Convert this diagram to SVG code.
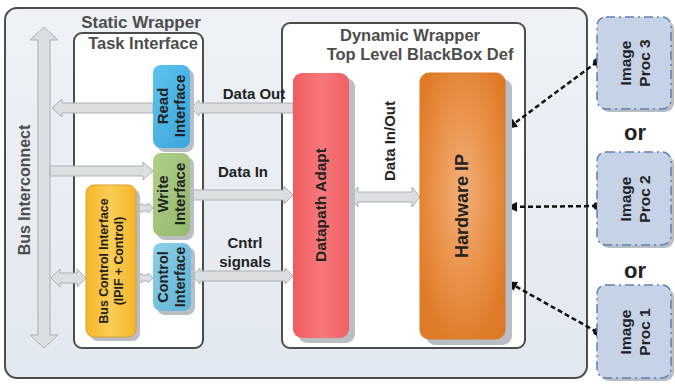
<svg xmlns="http://www.w3.org/2000/svg" width="675" height="384" viewBox="0 0 675 384">
<style>
.t{font-family:"Liberation Sans",Arial,sans-serif;font-weight:bold;fill:#222}
.tg{font-family:"Liberation Sans",Arial,sans-serif;font-weight:bold;fill:#4d4d4d}
.frame{fill:#fff;stroke:#4d4d4d;stroke-width:2}
.sh{fill:#b9bec4}
.arr{fill:#dcdfe2;stroke:#aab0b5;stroke-width:1}
.dash{fill:none;stroke:#111;stroke-width:2.5;stroke-dasharray:5 3}
.img{fill:#c6d3e6;stroke:#5d80b5;stroke-width:1.5;stroke-dasharray:9 4 2 4}
</style>
<defs>
<linearGradient id="gOuter" x1="0" y1="0" x2="0" y2="1"><stop offset="0" stop-color="#eef2f7"/><stop offset="1" stop-color="#e2e8ef"/></linearGradient>
<linearGradient id="gRead" x1="0" y1="0" x2="1" y2="1"><stop offset="0" stop-color="#5ec3ee"/><stop offset="1" stop-color="#3aa6dc"/></linearGradient>
<linearGradient id="gWrite" x1="0" y1="0" x2="1" y2="1"><stop offset="0" stop-color="#b0cf8c"/><stop offset="1" stop-color="#93b86b"/></linearGradient>
<linearGradient id="gCtrl" x1="0" y1="0" x2="1" y2="1"><stop offset="0" stop-color="#8fd0e8"/><stop offset="1" stop-color="#5eb2d4"/></linearGradient>
<linearGradient id="gBus" x1="0" y1="0" x2="1" y2="0"><stop offset="0" stop-color="#f5b82c"/><stop offset="0.5" stop-color="#fbcd55"/><stop offset="1" stop-color="#f3b52a"/></linearGradient>
<linearGradient id="gDp" x1="0" y1="0" x2="1" y2="0"><stop offset="0" stop-color="#f05b5f"/><stop offset="0.5" stop-color="#f7787a"/><stop offset="1" stop-color="#f06064"/></linearGradient>
<radialGradient id="gHw" cx="0.5" cy="0.45" r="0.6"><stop offset="0" stop-color="#f2b07a"/><stop offset="0.6" stop-color="#e98f45"/><stop offset="1" stop-color="#df7a26"/></radialGradient>
<marker id="ah" viewBox="0 0 10 10" refX="9" refY="5" markerWidth="4" markerHeight="4" orient="auto"><path d="M0,0 L10,5 L0,10 z" fill="#111"/></marker>
<marker id="dot" viewBox="0 0 10 10" refX="5" refY="5" markerWidth="3" markerHeight="3" orient="auto"><circle cx="5" cy="5" r="5" fill="#111"/></marker>
</defs>

<g id="static-wrapper">
<rect x="5" y="8" width="582" height="370" rx="12" fill="url(#gOuter)" stroke="#4d4d4d" stroke-width="2"/>
<text class="tg" x="141" y="28" font-size="17" text-anchor="middle">Static Wrapper</text>
</g>

<g id="task-interface">
<rect x="74" y="33" width="129" height="315" rx="8" class="frame"/>
<text class="tg" x="143" y="49" font-size="16.5" text-anchor="middle">Task Interface</text>
</g>

<g id="dynamic-wrapper">
<rect x="282" y="23" width="243" height="325" rx="8" class="frame"/>
<text class="tg" x="410" y="41" font-size="16.5" text-anchor="middle">Dynamic Wrapper</text>
<text class="tg" x="420" y="60" font-size="16.5" text-anchor="middle">Top Level BlackBox Def</text>
</g>

<g id="connectors">
<path class="arr" d="M44,27 L58,40 L50,40 L50,335 L58,335 L44,348 L30,335 L38,335 L38,40 L30,40 Z"/>
<path class="arr" d="M52,108 L62,99 L62,103 L153,103 L153,113 L62,113 L62,117 Z"/>
<path class="arr" d="M191,108 L199,100 L199,103 L293,103 L293,113 L199,113 L199,116 Z"/>
<path class="arr" d="M50,166 L143,166 L143,162 L153,171 L143,180 L143,176 L50,176 Z"/>
<path class="arr" d="M190,190 L284,190 L284,186 L293,195 L284,204 L284,200 L190,200 Z"/>
<path class="arr" d="M51,278 L60,269 L60,273 L77,273 L77,269 L86,278 L77,287 L77,283 L60,283 L60,287 Z"/>
<path class="arr" d="M137,208 L142,203 L142,205 L148,205 L148,203 L153,208 L148,213 L148,211 L142,211 L142,213 Z"/>
<path class="arr" d="M137,278 L142,273 L142,275 L148,275 L148,273 L153,278 L148,283 L148,281 L142,281 L142,283 Z"/>
<path class="arr" d="M192,276 L200,268 L200,271 L285,271 L285,268 L293,276 L285,284 L285,281 L200,281 L200,284 Z"/>
<path class="arr" d="M350,197 L358,187 L358,192 L412,192 L412,187 L420,197 L412,207 L412,202 L358,202 L358,207 Z"/>
<line class="dash" x1="597" y1="62" x2="508" y2="128" marker-start="url(#dot)" marker-end="url(#ah)"/>
<line class="dash" x1="597" y1="206" x2="508" y2="207" marker-start="url(#dot)" marker-end="url(#ah)"/>
<line class="dash" x1="597" y1="332" x2="508" y2="282" marker-start="url(#dot)" marker-end="url(#ah)"/>
</g>

<g id="bus-interconnect-label">
<text class="tg" font-size="16" text-anchor="middle" transform="translate(30,190) rotate(-90)">Bus Interconnect</text>
</g>

<g id="read-interface">
<rect x="157" y="69" width="37" height="83" rx="8" class="sh"/>
<rect x="153" y="65" width="37" height="83" rx="8" fill="url(#gRead)"/>
<text class="t" font-size="15" text-anchor="middle" transform="translate(168,106) rotate(-90)">Read</text>
<text class="t" font-size="15" text-anchor="middle" transform="translate(185,106) rotate(-90)">Interface</text>
</g>

<g id="write-interface">
<rect x="157" y="157" width="37" height="83" rx="8" class="sh"/>
<rect x="153" y="153" width="37" height="83" rx="8" fill="url(#gWrite)"/>
<text class="t" font-size="15" text-anchor="middle" transform="translate(168,194) rotate(-90)">Write</text>
<text class="t" font-size="15" text-anchor="middle" transform="translate(185,194) rotate(-90)">Interface</text>
</g>

<g id="control-interface">
<rect x="157" y="247" width="38" height="68" rx="8" class="sh"/>
<rect x="153" y="243" width="38" height="68" rx="8" fill="url(#gCtrl)"/>
<text class="t" font-size="14.5" text-anchor="middle" transform="translate(168,277) rotate(-90)">Control</text>
<text class="t" font-size="14.5" text-anchor="middle" transform="translate(185,277) rotate(-90)">Interface</text>
</g>

<g id="bus-control-interface">
<rect x="90" y="189" width="50" height="152" rx="8" class="sh"/>
<rect x="86" y="185" width="50" height="152" rx="8" fill="url(#gBus)" stroke="#d9a02a" stroke-width="1"/>
<text class="t" font-size="12.3" text-anchor="middle" transform="translate(108,261) rotate(-90)">Bus Control Interface</text>
<text class="t" font-size="12.3" text-anchor="middle" transform="translate(123,261) rotate(-90)">(IPIF + Control)</text>
</g>

<g id="datapath-adapt">
<rect x="298" y="78" width="57" height="265" rx="9" class="sh"/>
<rect x="293" y="73" width="56" height="265" rx="9" fill="url(#gDp)"/>
<text class="t" font-size="15.5" text-anchor="middle" transform="translate(326,205) rotate(-90)">Datapath Adapt</text>
</g>

<g id="hardware-ip">
<rect x="426" y="79" width="86" height="266" rx="9" class="sh"/>
<rect x="420" y="73" width="85" height="266" rx="9" fill="url(#gHw)" stroke="#d8792a" stroke-width="1"/>
<text class="t" font-size="18" text-anchor="middle" transform="translate(468,206) rotate(-90)">Hardware IP</text>
</g>

<g id="labels">
<text class="t" x="254" y="99" font-size="15" text-anchor="middle">Data Out</text>
<text class="t" x="243" y="177" font-size="15" text-anchor="middle">Data In</text>
<text class="t" x="245" y="248" font-size="15" text-anchor="middle">Cntrl</text>
<text class="t" x="245" y="267" font-size="15" text-anchor="middle">signals</text>
<text class="t" font-size="15" text-anchor="middle" transform="translate(395,141) rotate(-90)">Data In/Out</text>
<text class="t" x="635" y="140" font-size="22" text-anchor="middle">or</text>
<text class="t" x="635" y="278" font-size="22" text-anchor="middle">or</text>
</g>

<g id="image-proc-3">
<rect x="600" y="20" width="74" height="92" rx="9" class="sh"/>
<rect x="597" y="17" width="74" height="92" rx="9" class="img"/>
<text class="t" font-size="15.5" text-anchor="middle" transform="translate(631,63) rotate(-90)">Image</text>
<text class="t" font-size="15.5" text-anchor="middle" transform="translate(650,63) rotate(-90)">Proc 3</text>
</g>

<g id="image-proc-2">
<rect x="600" y="155" width="74" height="93" rx="9" class="sh"/>
<rect x="597" y="152" width="74" height="93" rx="9" class="img"/>
<text class="t" font-size="15.5" text-anchor="middle" transform="translate(631,199) rotate(-90)">Image</text>
<text class="t" font-size="15.5" text-anchor="middle" transform="translate(650,199) rotate(-90)">Proc 2</text>
</g>

<g id="image-proc-1">
<rect x="600" y="288" width="74" height="93" rx="9" class="sh"/>
<rect x="597" y="285" width="74" height="93" rx="9" class="img"/>
<text class="t" font-size="15.5" text-anchor="middle" transform="translate(631,332) rotate(-90)">Image</text>
<text class="t" font-size="15.5" text-anchor="middle" transform="translate(650,332) rotate(-90)">Proc 1</text>
</g>
</svg>
